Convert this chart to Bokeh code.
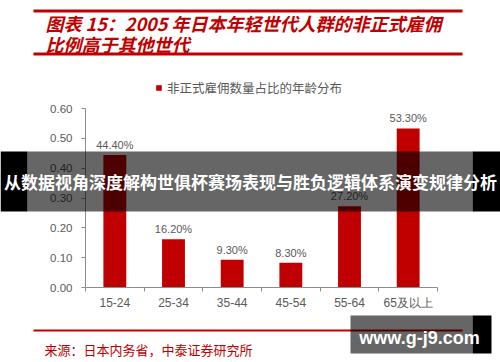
from bokeh.plotting import figure
from bokeh.models import (Range1d, FixedTicker, LinearAxis, BoxAnnotation, Label,
                          Legend, LegendItem, ColumnDataSource, PrintfTickFormatter)
from bokeh.core.properties import value
from bokeh.embed import file_html
from bokeh.resources import INLINE

# ---- data ----
categories = ["15-24", "25-34", "35-44", "45-54", "55-64", "65及以上"]
shares = [0.444, 0.162, 0.093, 0.083, 0.272, 0.533]
y_ticks = [0.0, 0.1, 0.2, 0.3, 0.4, 0.5, 0.6]
series_name = "非正式雇佣数量占比的年龄分布"
title_lines = ["图表 15：2005 年日本年轻世代人群的非正式雇佣", "比例高于其他世代"]
source_text = "来源：日本内务省，中泰证券研究所"
banner_text = "从数据视角深度解构世俱杯赛场表现与胜负逻辑体系演变规律分析"
watermark_text = "www.g-j9.com"

RED = "#C00000"
GRAY_TXT = "#595959"
AXIS_GRAY = "#8C8C8C"

W, H = 500, 362
# plot-area placement in canvas pixels
X0_PX, X1_PX = 85, 437      # left / right edge of category band
Y0_PX, Y1_PX = 287, 108     # pixel rows of y=0 and y=0.6
Y_TOP = 0.6

n = len(categories)
xs = [i + 0.5 for i in range(n)]
ppx = (X1_PX - X0_PX) / n
ppy = (Y0_PX - Y1_PX) / Y_TOP
x_range = Range1d(-X0_PX / ppx, n + (W - X1_PX) / ppx)
y_range = Range1d(-(H - Y0_PX) / ppy, Y_TOP + Y1_PX / ppy)

p = figure(width=W, height=H, output_backend="svg", toolbar_location=None,
           x_range=x_range, y_range=y_range, min_border=0,
           x_axis_type=None, y_axis_type=None)
p.outline_line_color = None
p.background_fill_color = "white"
p.border_fill_color = "white"

src = ColumnDataSource(dict(x=xs, top=shares, cat=categories,
                            label=[f"{v * 100:.2f}%" for v in shares]))

bars = p.vbar(x="x", top="top", bottom=0, width=0.39, source=src,
              fill_color=RED, line_color=None)
p.text(x="x", y="top", text="label", source=src, text_align="center",
       text_baseline="bottom", y_offset=-4, text_font_size="11px",
       text_color=GRAY_TXT, text_font=value("Liberation Sans"))

xaxis = LinearAxis(fixed_location=0, bounds=(0, n),
                   ticker=FixedTicker(ticks=xs, minor_ticks=list(range(n + 1))),
                   major_label_overrides={x: c for x, c in zip(xs, categories)},
                   major_tick_line_color=None, major_tick_in=0, major_tick_out=0,
                   minor_tick_in=0, minor_tick_out=4,
                   minor_tick_line_color=AXIS_GRAY, axis_line_color=AXIS_GRAY,
                   major_label_text_color=GRAY_TXT, major_label_text_font_size="12px",
                   major_label_text_font="Liberation Sans", major_label_standoff=4)
p.add_layout(xaxis, "below")

yaxis = LinearAxis(fixed_location=0, bounds=(0, Y_TOP),
                   ticker=FixedTicker(ticks=y_ticks),
                   formatter=PrintfTickFormatter(format="%.2f"),
                   major_tick_in=0, major_tick_out=4, major_tick_line_color=AXIS_GRAY,
                   minor_tick_line_color=None, axis_line_color=AXIS_GRAY,
                   major_label_text_color=GRAY_TXT, major_label_text_font_size="11.5px",
                   major_label_text_font="Liberation Sans", major_label_standoff=9)
p.add_layout(yaxis, "left")

legend = Legend(items=[LegendItem(label=series_name, renderers=[bars])],
                location=(155, H - 97), glyph_width=7, glyph_height=7,
                label_standoff=5, padding=0, margin=0, border_line_color=None,
                background_fill_alpha=0, label_text_font="Noto Sans CJK SC",
                label_text_font_size="12.5px", label_text_color=GRAY_TXT,
                label_height=20)
p.add_layout(legend, "center")


def hbox(x0, x1, y0, y1, color, alpha=1.0, level="overlay"):
    b = BoxAnnotation(left=x0, right=x1, top=H - y0, bottom=H - y1,
                      left_units="screen", right_units="screen",
                      top_units="screen", bottom_units="screen",
                      fill_color=color, fill_alpha=alpha, line_color=None, level=level)
    p.add_layout(b)


def label(x, y, text, size, color, font, style="normal", align="left", level="overlay"):
    lb = Label(x=x, y=H - y, x_units="screen", y_units="screen", text=text,
               text_font_size=size, text_color=color, text_font=font,
               text_font_style=style, text_align=align, text_baseline="middle", level=level)
    p.add_layout(lb)


# header
hbox(33, 462, 9, 12, RED)
label(45, 22, title_lines[0], "18px", RED, "Noto Sans CJK SC", "bold italic")
label(45, 43, title_lines[1], "18px", RED, "Noto Sans CJK SC", "bold italic")
hbox(33, 462, 52, 55, RED)

# footer
hbox(33, 462, 329, 331, RED)
label(44, 349, source_text, "13px", RED, "Noto Sans CJK SC")

# banner overlay
hbox(0, 27, 151, 211, "black")
hbox(27, 472, 151, 211, "black", 0.6)
hbox(472, 500, 151, 211, "black")
label(250, 181, banner_text, "17px", "white", "Noto Sans CJK SC", "bold", "center")

# watermark
hbox(350, 472, 315, 353, "black", 0.6)
hbox(472, 491, 315, 353, "black")
label(419, 337, watermark_text, "18px", "white", "Liberation Sans", "bold", "center")

open("out.html", "w").write(file_html(p, INLINE))
